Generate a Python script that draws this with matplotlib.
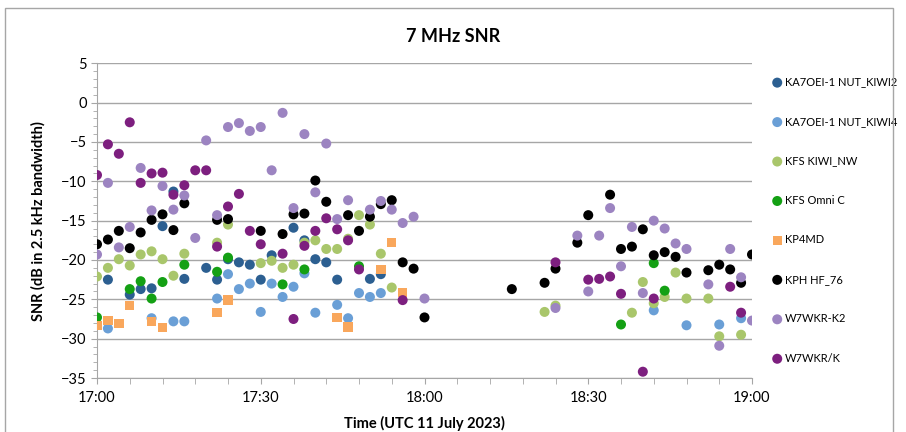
import matplotlib
matplotlib.use("Agg")
import matplotlib.pyplot as plt
from matplotlib.patches import Rectangle
from matplotlib.ticker import MultipleLocator, FuncFormatter

plt.rcParams['font.family'] = ['Lato', 'DejaVu Sans']

# minutes after 17:00 UTC, SNR in dB
kiwi2_t = [2, 6, 8, 10, 12, 14, 16, 20, 22, 24, 26, 28, 30, 32, 36, 38, 40, 42, 44, 50, 52]
kiwi2_v = [-22.5, -24.4, -23.7, -23.6, -15.7, -11.3, -22.4, -21.0, -22.5, -19.9, -20.3, -20.6,
           -22.5, -19.4, -15.9, -17.5, -19.9, -20.3, -22.5, -22.4, -21.8]

kiwi4_t = [2, 10, 14, 16, 22, 24, 26, 28, 30, 32, 34, 36, 38, 40, 44, 46, 48, 50, 52,
           102, 108, 114, 118]
kiwi4_v = [-28.7, -27.4, -27.8, -27.8, -24.9, -21.8, -23.7, -23.0, -26.6, -23.0, -24.7, -23.4,
           -21.7, -26.7, -25.7, -27.4, -24.2, -24.7, -24.2, -26.4, -28.3, -28.2, -27.4]

kfs_nw_t = [0, 2, 4, 6, 8, 10, 12, 14, 16, 22, 24, 30, 32, 34, 36, 38, 40, 42, 44, 46, 48, 50,
            52, 54, 82, 84, 98, 100, 102, 104, 106, 108, 112, 114, 118]
kfs_nw_v = [-22.1, -21.0, -19.9, -20.7, -19.3, -18.9, -19.9, -22.0, -19.2, -17.8, -15.5, -20.4,
            -20.1, -21.0, -20.6, -17.8, -17.5, -18.6, -18.6, -17.3, -14.3, -15.5, -19.2, -23.5,
            -26.6, -25.8, -26.7, -22.8, -25.5, -24.7, -21.6, -24.9, -24.9, -29.7, -29.5]

kfs_omni_t = [0, 6, 8, 10, 12, 16, 22, 24, 34, 38, 48, 96, 102, 104]
kfs_omni_v = [-27.3, -23.7, -22.7, -24.9, -22.8, -20.6, -21.5, -19.7, -23.1, -21.2, -20.8,
              -28.2, -20.4, -23.9]

kp4md_t = [0, 2, 4, 6, 10, 12, 22, 24, 44, 46, 52, 54, 56]
kp4md_v = [-28.3, -27.7, -28.1, -25.8, -27.8, -28.6, -26.7, -25.1, -27.3, -28.5, -21.2, -17.8, -24.1]

kph_t = [0, 2, 4, 6, 8, 10, 12, 14, 16, 22, 24, 30, 34, 36, 38, 40, 42, 46, 48, 50, 52, 54,
         56, 58, 60, 76, 82, 84, 88, 90, 94, 96, 98, 100, 102, 104, 106, 108, 112, 114, 116,
         118, 120]
kph_v = [-18.0, -17.4, -16.3, -18.5, -16.5, -14.9, -14.2, -16.2, -12.8, -14.9, -14.8, -16.3,
         -16.7, -14.2, -14.1, -9.9, -12.6, -14.3, -16.3, -14.5, -12.9, -12.4, -20.3, -21.1,
         -27.3, -23.7, -22.9, -21.1, -17.8, -14.3, -11.7, -18.6, -18.3, -16.1, -19.4, -19.0,
         -19.6, -21.6, -21.3, -20.6, -21.2, -22.9, -19.3]

k2_t = [0, 2, 4, 6, 8, 10, 12, 14, 16, 18, 20, 22, 24, 26, 28, 30, 32, 34, 36, 38, 40, 42,
        44, 46, 50, 52, 54, 56, 58, 60, 84, 88, 90, 92, 94, 96, 98, 100, 102, 104, 106, 108,
        112, 114, 116, 118, 120]
k2_v = [-19.3, -10.2, -18.4, -15.8, -8.3, -13.7, -10.6, -13.6, -11.8, -17.2, -4.8, -14.3,
        -3.1, -2.6, -3.6, -3.1, -8.6, -1.3, -13.4, -4.0, -11.4, -5.2, -14.8, -12.4, -13.6,
        -12.5, -13.6, -15.3, -14.5, -24.9, -26.1, -16.9, -24.0, -16.9, -13.4, -20.8, -15.8,
        -24.2, -15.0, -16.0, -17.9, -18.6, -23.1, -30.9, -18.6, -22.2, -27.7]

w7k_t = [0, 2, 4, 6, 8, 10, 12, 14, 16, 18, 20, 22, 24, 26, 28, 30, 34, 36, 38, 40, 42, 44,
         46, 48, 56, 84, 90, 92, 94, 96, 100, 102, 116, 118]
w7k_v = [-9.2, -5.3, -6.5, -2.5, -10.2, -9.0, -8.9, -11.7, -10.5, -8.6, -8.6, -18.3, -13.2,
         -11.6, -16.3, -18.0, -19.2, -27.5, -18.2, -16.3, -14.7, -16.1, -17.5, -21.2, -25.1,
         -20.3, -22.5, -22.4, -22.1, -24.3, -34.2, -24.9, -23.4, -26.7]

series = [
    ("KA7OEI-1 NUT_KIWI2", kiwi2_t, kiwi2_v, '#2c5f91', 'o'),
    ("KA7OEI-1 NUT_KIWI4", kiwi4_t, kiwi4_v, '#6a9fd6', 'o'),
    ("KFS KIWI_NW", kfs_nw_t, kfs_nw_v, '#a9c66b', 'o'),
    ("KFS Omni C", kfs_omni_t, kfs_omni_v, '#14a014', 'o'),
    ("KP4MD", kp4md_t, kp4md_v, '#f9a75c', 's'),
    ("KPH HF_76", kph_t, kph_v, '#000000', 'o'),
    ("W7WKR-K2", k2_t, k2_v, '#9c84c1', 'o'),
    ("W7WKR/K", w7k_t, w7k_v, '#7d1f7f', 'o'),
]

fig = plt.figure(figsize=(9.06, 4.32), dpi=100)
ax = fig.add_axes([97 / 906, 1 - 378 / 432, (752 - 97) / 906, (378 - 63.3) / 432])

for name, t, v, col, mk in series:
    ax.scatter(t, v, s=52 if mk == 'o' else 46, marker=mk, color=col,
               edgecolors='none', label=name, zorder=3)

ax.set_xlim(0, 120)
ax.set_ylim(-35, 5)
ax.yaxis.set_major_locator(MultipleLocator(5))
ax.yaxis.set_minor_locator(MultipleLocator(1))
ax.xaxis.set_major_locator(MultipleLocator(30))
ax.xaxis.set_minor_locator(MultipleLocator(6))
ax.xaxis.set_major_formatter(FuncFormatter(lambda x, p: "%d:%02d" % (17 + int(x) // 60, int(x) % 60)))
ax.grid(axis='y', which='major', color='#a6a6a6', linewidth=1)
ax.set_axisbelow(True)
for s in ['top', 'right']:
    ax.spines[s].set_visible(False)
for s in ['left', 'bottom']:
    ax.spines[s].set_color('#a6a6a6')
ax.tick_params(which='both', color='#a6a6a6', labelsize=10.5, direction='out')
ax.tick_params(which='major', length=4)
ax.tick_params(which='minor', length=3)
ax.tick_params(axis='x', which='minor', length=4)
ax.tick_params(axis='x', which='major', pad=5)

ax.set_xlabel("Time (UTC 11 July 2023)", fontsize=10.5, fontweight='bold', labelpad=8)
ax.set_ylabel("SNR (dB in 2.5 kHz bandwidth)", fontsize=10.5, fontweight='bold', labelpad=11)
fig.text(453 / 906, 1 - 36 / 432, "7 MHz SNR", ha='center', va='center',
         fontsize=13, fontweight='bold')

ax.legend(loc='upper left', bbox_to_anchor=(765 / 906, 1 - 71 / 432),
          bbox_transform=fig.transFigure, frameon=False, fontsize=8,
          labelspacing=2.56, handletextpad=0.1, handlelength=1.2, borderpad=0,
          scatterpoints=1)

fig.patches.append(Rectangle((5 / 906, -0.1), (893 - 5) / 906, 1.1 - 8 / 432,
                             transform=fig.transFigure, fill=False,
                             edgecolor='#a6a6a6', linewidth=1))

fig.savefig("out.png", dpi=100)
